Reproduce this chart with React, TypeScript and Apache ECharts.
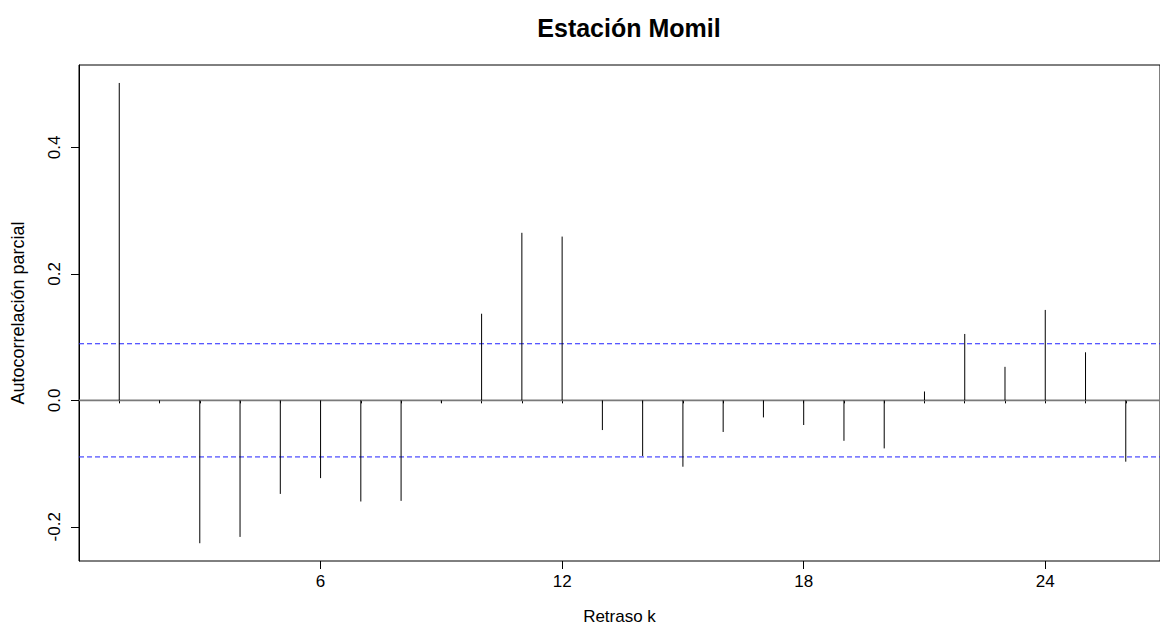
import React, { useEffect, useRef } from "react";
import * as echarts from "echarts";

const lags = [1, 2, 3, 4, 5, 6, 7, 8, 9, 10, 11, 12, 13, 14, 15, 16, 17, 18, 19, 20, 21, 22, 23, 24, 25, 26];
const pacf = [
  0.502, -0.004, -0.226, -0.216, -0.148, -0.123, -0.160, -0.159, -0.004, 0.137,
  0.265, 0.259, -0.047, -0.088, -0.105, -0.050, -0.027, -0.039, -0.064, -0.076,
  0.014, 0.105, 0.053, 0.143, 0.076, -0.097,
];
const ciLimit = 0.0895;
const xMajorTicks = [6, 12, 18, 24];
const yTicks = [-0.2, 0, 0.2, 0.4];
const xMin = 0;
const xMax = 26.85;
const yMin = -0.2541;
const yMax = 0.5304;

const FONT = "'Liberation Sans', Arial, sans-serif";

export default function App() {
  const ref = useRef<HTMLDivElement>(null);

  useEffect(() => {
    if (!ref.current) return;
    const chart = echarts.init(ref.current, undefined, { renderer: "svg" });
    const data = lags.map((l, i) => [l, pacf[i]]);
    const hline = (v: number) => [
      [xMin, v],
      [xMax, v],
    ];

    chart.setOption({
      animation: false,
      backgroundColor: "#ffffff",
      textStyle: { fontFamily: FONT },
      title: {
        text: "Estación Momil",
        left: 624,
        top: 10,
        textAlign: "center",
        textStyle: { fontFamily: FONT, fontSize: 25, fontWeight: "bold", color: "#000" },
      },
      grid: {
        left: 79,
        top: 65,
        right: -2,
        bottom: 68,
        show: true,
        borderColor: "#000",
        borderWidth: 1,
        backgroundColor: "transparent",
      },
      xAxis: [
        {
          type: "value",
          min: xMin,
          max: xMax,
          position: "bottom",
          axisLine: { show: true, lineStyle: { color: "#000", width: 1 } },
          axisTick: { show: true, customValues: lags, length: 3, lineStyle: { color: "#000" } },
          axisLabel: {
            show: true,
            customValues: xMajorTicks,
            fontSize: 17,
            color: "#000",
            margin: 12,
            fontFamily: FONT,
          },
          splitLine: { show: false },
          name: "Retraso k",
          nameLocation: "middle",
          nameGap: 47,
          nameTextStyle: { fontSize: 17, color: "#000", fontFamily: FONT },
        },
        {
          type: "value",
          min: xMin,
          max: xMax,
          position: "bottom",
          axisLine: { show: false },
          axisTick: { show: true, customValues: xMajorTicks, length: 8, lineStyle: { color: "#000" } },
          axisLabel: { show: false },
          splitLine: { show: false },
        },
      ],
      yAxis: {
        type: "value",
        min: yMin,
        max: yMax,
        axisLine: { show: true, lineStyle: { color: "#000" } },
        axisTick: { show: true, customValues: yTicks, length: 8, lineStyle: { color: "#000" } },
        axisLabel: {
          show: true,
          customValues: yTicks,
          rotate: 90,
          fontSize: 17,
          color: "#000",
          margin: 16,
          fontFamily: FONT,
          formatter: (v: number) => v.toFixed(1),
        },
        splitLine: { show: false },
        name: "Autocorrelación parcial",
        nameLocation: "middle",
        nameRotate: 90,
        nameGap: 52,
        nameTextStyle: { fontSize: 18, color: "#000", fontFamily: FONT },
      },
      series: [
        {
          type: "line",
          data: hline(0),
          xAxisIndex: 0,
          yAxisIndex: 0,
          showSymbol: false,
          silent: true,
          lineStyle: { color: "#7a7a7a", width: 1.6, type: "solid" },
          z: 2,
        },
        {
          type: "line",
          data: hline(ciLimit),
          xAxisIndex: 0,
          yAxisIndex: 0,
          showSymbol: false,
          silent: true,
          lineStyle: { color: "#2020ff", width: 1, type: [5, 3] },
          z: 2,
        },
        {
          type: "line",
          data: hline(-ciLimit),
          xAxisIndex: 0,
          yAxisIndex: 0,
          showSymbol: false,
          silent: true,
          lineStyle: { color: "#2020ff", width: 1, type: [5, 3] },
          z: 2,
        },
        {
          type: "custom",
          xAxisIndex: 0,
          yAxisIndex: 0,
          data,
          renderItem: (params: any, api: any) => {
            const x = api.value(0);
            const v = api.value(1);
            const p0 = api.coord([x, 0]);
            const p1 = api.coord([x, v]);
            return {
              type: "line",
              shape: { x1: p0[0], y1: p0[1], x2: p1[0], y2: p1[1] },
              style: { stroke: "#000", lineWidth: 1 },
            };
          },
          z: 3,
        },
      ],
    });

    return () => chart.dispose();
  }, []);

  return (
    <div
      ref={ref}
      style={{ position: "fixed", left: 0, top: 0, width: 1160, height: 630, background: "#fff" }}
    />
  );
}
